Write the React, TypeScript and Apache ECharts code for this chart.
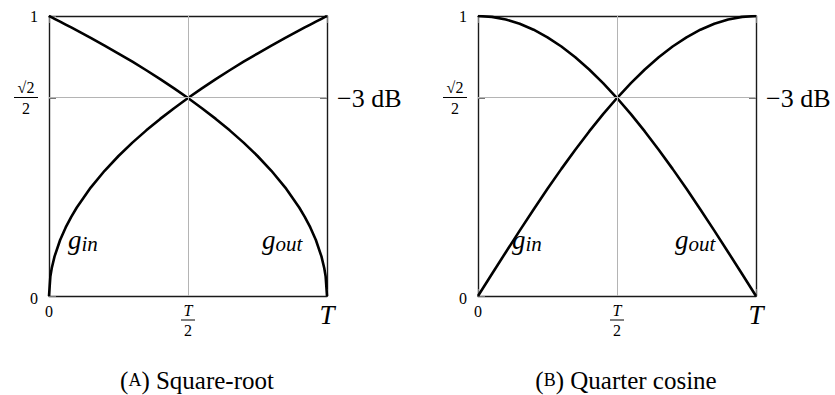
import React, { useEffect, useRef } from "react";
import * as echarts from "echarts";

const FONT = "Liberation Serif";

// Square-root crossfade (fade position t/T, gain)
const sqrtT = [0, 0.005, 0.01, 0.02, 0.04, 0.06, 0.08, 0.1, 0.15, 0.2, 0.25, 0.3, 0.35, 0.4, 0.45, 0.5, 0.55, 0.6, 0.65, 0.7, 0.75, 0.8, 0.85, 0.9, 0.92, 0.94, 0.96, 0.98, 0.99, 0.995, 1];
const sqrtIn = [0, 0.0707, 0.1, 0.1414, 0.2, 0.2449, 0.2828, 0.3162, 0.3873, 0.4472, 0.5, 0.5477, 0.5916, 0.6325, 0.6708, 0.7071, 0.7416, 0.7746, 0.8062, 0.8367, 0.866, 0.8944, 0.922, 0.9487, 0.9592, 0.9695, 0.9798, 0.9899, 0.995, 0.9975, 1];
const sqrtOut = [1, 0.9975, 0.995, 0.9899, 0.9798, 0.9695, 0.9592, 0.9487, 0.922, 0.8944, 0.866, 0.8367, 0.8062, 0.7746, 0.7416, 0.7071, 0.6708, 0.6325, 0.5916, 0.5477, 0.5, 0.4472, 0.3873, 0.3162, 0.2828, 0.2449, 0.2, 0.1414, 0.1, 0.0707, 0];

// Quarter-cosine crossfade
const cosT = [0, 0.05, 0.1, 0.15, 0.2, 0.25, 0.3, 0.35, 0.4, 0.45, 0.5, 0.55, 0.6, 0.65, 0.7, 0.75, 0.8, 0.85, 0.9, 0.95, 1];
const cosIn = [0, 0.0785, 0.1564, 0.2334, 0.309, 0.3827, 0.454, 0.5225, 0.5878, 0.6494, 0.7071, 0.7604, 0.809, 0.8526, 0.891, 0.9239, 0.9511, 0.9724, 0.9877, 0.9969, 1];
const cosOut = [1, 0.9969, 0.9877, 0.9724, 0.9511, 0.9239, 0.891, 0.8526, 0.809, 0.7604, 0.7071, 0.6494, 0.5878, 0.5225, 0.454, 0.3827, 0.309, 0.2334, 0.1564, 0.0785, 0];

// Axis marks
const xTicks = [0, 0.5, 1];
const xTickLabels = ["0", "T/2", "T"];
const yTicks = [0, 0.7071, 1];
const halfPower = 0.7071;
const halfPowerLabel = "−3 dB";

// Panel captions
const captionTags = ["A", "B"];
const captionNames = ["Square-root", "Quarter cosine"];

const curveLabels = ["in", "out"];

const panels = [
  { t: sqrtT, gin: sqrtIn, gout: sqrtOut, inAt: [0.068, 0.2], outAt: [0.766, 0.2] },
  { t: cosT, gin: cosIn, gout: cosOut, inAt: [0.122, 0.2], outAt: [0.709, 0.2] },
];

const gridLefts = [49, 478];
const GRID_TOP = 16;
const GRID_W = 278;
const GRID_H = 280;

const BORDER = "#1a1a1a";
const GUIDE = "#b4b4b4";

function xLabel(v: number) {
  const i = xTicks.indexOf(v);
  if (i === 0) return "{o|" + xTickLabels[0] + "}";
  if (i === 1) return "{tn|T}\n{bar|}\n{td|2}";
  if (i === 2) return "{big|" + xTickLabels[2] + "}";
  return "";
}

function yLabel(v: number) {
  if (v === 1) return "{n|1}";
  if (v === 0) return "{z|0}";
  return "{num|√2}\n{bar|}\n{den|2}";
}

const txt = (size: number, extra: any = {}) => ({ fontSize: size, fontFamily: FONT, color: "#000", ...extra });

export default function App() {
  const ref = useRef<HTMLDivElement>(null);

  useEffect(() => {
    if (!ref.current) return;
    const chart = echarts.init(ref.current, undefined, { renderer: "svg" });

    const grid: any[] = [];
    const xAxis: any[] = [];
    const yAxis: any[] = [];
    const series: any[] = [];
    const graphic: any[] = [];

    panels.forEach((p, i) => {
      grid.push({ left: gridLefts[i], top: GRID_TOP, width: GRID_W, height: GRID_H, containLabel: false });

      const lineStyle = { color: BORDER, width: 1.4 };
      const tick = { show: true, inside: true, length: 7, lineStyle: { color: "#777", width: 1 } };

      xAxis.push({
        gridIndex: i, type: "value", min: 0, max: 1, interval: 0.5, position: "bottom",
        axisLine: { show: true, onZero: false, lineStyle },
        axisTick: tick,
        splitLine: { show: false },
        axisLabel: {
          show: true, margin: 7, formatter: xLabel, ...txt(16),
          rich: {
            o: txt(16, { lineHeight: 17 }),
            tn: txt(16, { fontStyle: "italic", width: 14, align: "center", lineHeight: 15 }),
            bar: { width: 14, height: 1, backgroundColor: "#000", lineHeight: 4 },
            td: txt(16, { width: 14, align: "center", lineHeight: 17 }),
            big: txt(27, { fontStyle: "italic", lineHeight: 24 }),
          },
        },
      });
      xAxis.push({
        gridIndex: i, type: "value", min: 0, max: 1, interval: 0.5, position: "top",
        axisLine: { show: true, onZero: false, lineStyle },
        axisTick: tick,
        splitLine: { show: false },
        axisLabel: { show: false },
      });
      yAxis.push({
        gridIndex: i, type: "value", min: 0, max: 1, position: "left",
        axisLine: { show: true, onZero: false, lineStyle },
        axisTick: { ...tick, customValues: yTicks },
        splitLine: { show: false },
        axisLabel: {
          show: true, margin: 11, customValues: yTicks, formatter: yLabel, ...txt(16),
          rich: {
            n: txt(16),
            z: txt(16, { padding: [4, 0, 0, 0] }),
            num: txt(16, { width: 24, align: "center", lineHeight: 16 }),
            bar: { width: 24, height: 1, backgroundColor: "#000", lineHeight: 5 },
            den: txt(16, { width: 24, align: "center", lineHeight: 17 }),
          },
        },
      });
      yAxis.push({
        gridIndex: i, type: "value", min: 0, max: 1, position: "right",
        axisLine: { show: true, onZero: false, lineStyle },
        axisTick: { ...tick, customValues: [halfPower] },
        splitLine: { show: false },
        axisLabel: {
          show: true, margin: 10, customValues: [halfPower], formatter: () => halfPowerLabel,
          ...txt(26),
        },
      });

      const xi = i * 2;
      const yi = i * 2;

      // guide lines at T/2 and the -3 dB level
      series.push({
        type: "line", xAxisIndex: xi, yAxisIndex: yi, data: [], z: 1, silent: true,
        markLine: {
          silent: true, symbol: "none", animation: false,
          label: { show: false },
          lineStyle: { color: GUIDE, width: 1, type: "solid" },
          data: [{ xAxis: 0.5 }, { yAxis: halfPower }],
        },
      });

      const curveStyle = { color: "#000", width: 2.6 };
      const mkLabel = (at: number[], sub: string) => ({
        coord: at,
        symbol: "circle", symbolSize: 0,
        label: {
          show: true, position: "right", distance: 0,
          formatter: "{g|g}{s|" + sub + "}",
          ...txt(27),
          rich: {
            g: txt(27, { fontStyle: "italic" }),
            s: txt(21, { fontStyle: "italic", padding: [8, 0, 0, 0] }),
          },
        },
      });

      series.push({
        type: "line", xAxisIndex: xi, yAxisIndex: yi, z: 3,
        data: p.t.map((t, k) => [t, p.gin[k]]),
        showSymbol: false, symbol: "none", lineStyle: curveStyle, silent: true,
        markPoint: { silent: true, animation: false, data: [mkLabel(p.inAt, curveLabels[0])] },
      });
      series.push({
        type: "line", xAxisIndex: xi, yAxisIndex: yi, z: 3,
        data: p.t.map((t, k) => [t, p.gout[k]]),
        showSymbol: false, symbol: "none", lineStyle: curveStyle, silent: true,
        markPoint: { silent: true, animation: false, data: [mkLabel(p.outAt, curveLabels[1])] },
      });

      graphic.push({
        type: "text",
        x: gridLefts[i] + GRID_W / 2 + 9,
        y: 380,
        style: {
          text: "{p|(}{sc|" + captionTags[i] + "}{p|) " + captionNames[i] + "}",
          fontFamily: FONT,
          fontSize: 25,
          fill: "#000",
          align: "center",
          verticalAlign: "middle",
          rich: {
            p: { fontSize: 25, fontFamily: FONT, fill: "#000" },
            sc: { fontSize: 18, fontFamily: FONT, fill: "#000" },
          },
        },
      });
    });

    chart.setOption({
      animation: false,
      backgroundColor: "#fff",
      textStyle: { fontFamily: FONT },
      grid,
      xAxis,
      yAxis,
      series,
      graphic,
    });

    return () => chart.dispose();
  }, []);

  return (
    <div
      ref={ref}
      style={{ position: "fixed", left: 0, top: 0, width: 835, height: 395 }}
    />
  );
}
